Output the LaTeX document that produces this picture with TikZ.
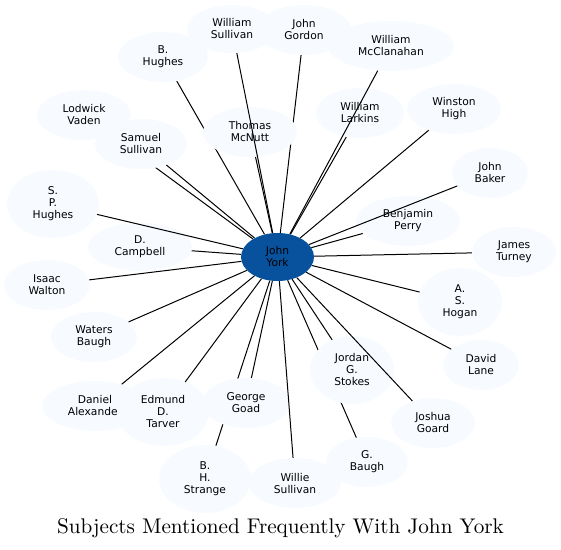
\documentclass[tikz,border=0pt]{standalone}
\usepackage{fontspec}
\usepackage{tikz}
\usetikzlibrary{shapes.geometric,backgrounds}
\newfontfamily\labelfont{DejaVu Sans}
\newfontfamily\titlefont{lmroman10-regular.otf}
\definecolor{HubBlue}{RGB}{8,81,156}
\definecolor{PaleBlue}{RGB}{247,251,255}

\begin{document}
\begin{tikzpicture}[x=1pt, y=-1pt,
  subject/.style={ellipse, fill=PaleBlue, inner sep=0pt, align=center,
    font=\labelfont\fontsize{10.7}{12}\selectfont},
  hub/.style={ellipse, fill=HubBlue, inner sep=0pt, align=center,
    minimum width=73pt, minimum height=48pt,
    font=\labelfont\fontsize{10.7}{12}\selectfont},
  link/.style={line width=1pt}]
  \useasboundingbox (0,0) rectangle (561,549);

  % Hub
  \node[hub] (york) at (277.5,257) {John\\York};

  % Subjects (order matters where ellipses overlap)
  \foreach \n/\x/\y/\w/\h/\t in {
      wsullivan/232/29/90/48/William\\Sullivan,
      gordon/304/30/94/50/John\\Gordon,
      mcclanahan/391/46/126/50/William\\McClanahan,
      bhughes/163/57/90/50/B.\\Hughes,
      vaden/84/115/94/50/Lodwick\\Vaden,
      mcnutt/250/132/94/50/Thomas\\McNutt,
      larkins/360/113/88/50/William\\Larkins,
      high/454/109/94/50/Winston\\High,
      ssullivan/141/144/92/50/Samuel\\Sullivan,
      baker/490/173/76/50/John\\Baker,
      sphughes/53/204/92/68/S.\\P.\\Hughes,
      perry/408/221/104/50/Benjamin\\Perry,
      campbell/140/247/104/48/D.\\Campbell,
      turney/514/252/84/50/James\\Turney,
      walton/47/285/86/50/Isaac\\Walton,
      hogan/460/302/84/68/A.\\S.\\Hogan,
      wbaugh/94/337/86/50/Waters\\Baugh,
      lane/481/365/76/50/David\\Lane,
      stokes/352/370/84/68/Jordan\\G.\\Stokes,
      alexander/95/406/106/50/Daniel\\Alexander,
      tarver/163/412/92/68/Edmund\\D.\\Tarver,
      goad/246/403/88/50/George\\Goad,
      goard/433/423/84/50/Joshua\\Goard,
      gbaugh/367/462/82/50/G.\\Baugh,
      strange/205/479/92/68/B.\\H.\\Strange,
      wiesullivan/295/483/92/50/Willie\\Sullivan}{
    \node[subject, minimum width=\w pt, minimum height=\h pt] (\n) at (\x,\y) {\t};
  }

  % Links hidden behind other ellipses
  \begin{scope}[on background layer]
    \foreach \n in {gordon, bhughes, vaden, gbaugh, strange}
      \draw[link] (york) -- (\n);
  \end{scope}

  % Links on top
  \foreach \n in {wsullivan, mcclanahan, mcnutt, larkins, high, ssullivan,
      baker, sphughes, perry, campbell, turney, walton, hogan, wbaugh, lane,
      stokes, alexander, tarver, goad, goard, wiesullivan}
    \draw[link] (york) -- (\n);

  % Title
  \node[anchor=base, font=\titlefont\fontsize{21.2}{25}\selectfont] (title) at (280.5,533)
    {Subjects Mentioned Frequently With John York};
\end{tikzpicture}
\end{document}
